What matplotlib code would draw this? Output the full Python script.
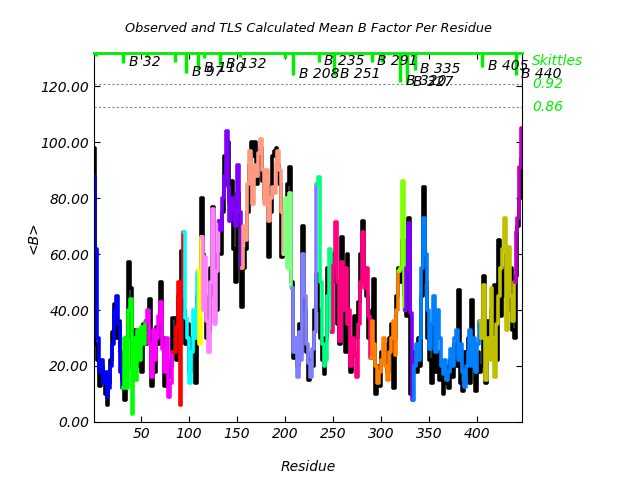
import numpy as np
import matplotlib
matplotlib.use("Agg")
import matplotlib.pyplot as plt

plt.rcParams["font.family"] = "DejaVu Sans"
plt.rcParams["font.style"] = "italic"

# residues sampled every 2
residue = np.arange(1, 448, 2)

# observed mean B (black)
obs_b = [
    98, 28, 22, 13, 20, 17, 10, 6, 14, 22, 32, 42, 30, 36, 25, 15,       # 1-31
    8, 30, 57, 48, 20, 25, 33, 20, 30, 18, 35, 28,                         # 33-55
    35, 44, 13, 25, 18, 34, 28, 50, 30, 13, 22, 16, 20, 37,                # 57-83
    37, 22, 45, 28, 61, 40,                                                # 85-95
    28, 35, 18, 30, 25, 14, 45,                                            # 97-109
    50, 80,                                                                # 111-113
    60, 45, 30, 32, 55, 77, 45, 40, 60,                                    # 115-131
    60, 75, 95, 85, 100, 78, 86, 62, 50, 82, 70, 41,                       # 133-155
    55, 62, 75, 92, 100, 95, 100, 85, 92, 98, 86, 80, 85, 59, 75, 95,
    97, 98, 92, 85, 59, 75,                                                # 157-199
    70, 85, 91, 50,                                                        # 201-207
    23, 28, 20, 35, 25, 70, 40, 25, 15, 22, 20, 40, 53,                    # 209-233
    40, 30, 22, 17, 30, 55, 50, 60,                                        # 235-249
    60, 50, 35, 28, 66, 40, 25, 60, 30, 18, 24, 38, 30, 43, 60, 72,
    55, 45, 30, 35,                                                        # 251-289
    40, 51, 10, 20, 13, 25, 22, 28, 18, 30, 35, 12, 30, 45, 55,            # 291-319
    50, 65, 45,                                                            # 321-325
    38, 73, 10, 25,                                                        # 327-333
    25, 18, 30, 20, 45, 84, 50, 30, 22, 14, 35, 18, 25, 15, 20, 10,
    14, 20, 12, 22, 16, 28, 20, 47, 14, 11, 25, 18, 30, 14, 43.6, 22,
    11, 25, 18,                                                            # 335-403
    20, 52, 14, 36, 25, 40, 30, 49, 22, 65, 38, 55, 45, 60, 40, 55,
    33, 30,                                                                # 405-439
    52, 70, 80, 94,                                                        # 441-447
]

# TLS calculated mean B (coloured per group)
tls_b = [
    88, 62, 30, 18, 22, 14, 18, 9, 12, 20, 28, 40, 45, 35, 18, 12,        # 1-31
    30, 12, 40, 44, 3, 30, 15, 33, 22, 34, 28, 36,                         # 33-55
    40, 28, 16, 33, 22, 30, 38, 43, 26, 18, 30, 9, 14, 25,                 # 57-83
    25, 34, 50, 6, 45, 68,                                                 # 85-95
    37, 30, 14, 25, 40, 30, 54,                                            # 97-109
    28, 66,                                                                # 111-113
    40, 59, 36, 25, 50, 76, 35, 54, 72,                                    # 115-131
    68.6, 80, 88, 104, 84, 72, 80, 76, 70, 92, 75, 55,                     # 133-155
    70, 65, 85, 97, 88, 78, 92, 88, 96, 101, 90, 78, 90, 72, 80, 84,
    82, 93, 97, 90, 75, 60,                                                # 157-199
    80, 55, 82, 48,                                                        # 201-207
    25, 30, 16, 32, 22, 60, 45, 28, 21, 16, 26, 32, 85,                    # 209-233
    87.6, 50, 28, 20, 22, 45, 62, 32,                                      # 235-249
    56, 71.5, 50, 29, 57, 40, 55, 35, 40, 20, 30, 25, 16, 35, 50, 68,
    48, 55, 38, 23,                                                        # 251-289
    36, 28, 20, 14, 18, 22, 30, 20, 15, 25, 30, 36, 24, 40, 54,            # 291-319
    55, 86, 40,                                                            # 321-325
    55, 71, 39, 8,                                                         # 327-333
    20, 28, 22, 30, 55, 73, 60, 40, 26, 35, 45, 25, 40, 30, 20, 17,
    22, 15, 18, 26, 20, 30, 33, 22, 28, 18, 12.6, 20, 25, 33, 20, 30,
    18, 28, 36,                                                            # 335-403
    30, 49, 15, 30, 22, 48, 30, 16, 35, 45, 55, 62, 73, 33, 62.6, 45,
    36, 50,                                                                # 405-439
    68, 73, 91, 105,                                                       # 441-447
]

group_start = [1, 33, 57, 85, 97, 111, 115, 133, 157, 201, 209, 235, 251,
               291, 321, 327, 335, 405, 441]
group_color = ["#0000ff", "#00ff00", "#ff00ff", "#ff0000", "#00ffff",
               "#ffff00", "#ff80ff", "#8000ff", "#ff9980", "#80ff80",
               "#8080ff", "#00ff80", "#ff0080", "#ff8000", "#80ff00",
               "#8000ff", "#0080ff", "#c0c000", "#c000c0"]

# skittle marks along the top: residue, lower end (B units), label
skittle_res = [3, 31, 56, 85, 97, 109, 116, 132, 153, 200, 208, 235, 251,
               290, 301, 320, 327, 335, 405, 440]
skittle_end = [131, 128.2, 130.5, 128.6, 124.6, 126.1, 130, 127.5, 130.5,
               130, 123.9, 128.6, 123.9, 128.6, 128.6, 121.4, 121.1, 125.7,
               126.8, 123.9]
skittle_lab = ["", "B 32", "", "", "B 97", "B 110", "", "B 132", "", "",
               "B 208", "B 235", "B 251", "B 291", "", "B 320", "B 327",
               "B 335", "B 405", "B 440"]

ref_lines = [120.9, 112.6]
ref_labels = ["0.92", "0.86"]

fig = plt.figure(figsize=(6.4, 4.8), dpi=100)
ax = fig.add_axes([0.147, 0.121, 0.669, 0.768])

ax.plot(residue, obs_b, color="black", lw=2.6, drawstyle="steps-mid")

obs = np.array(obs_b)
tls = np.array(tls_b)
for k, start in enumerate(group_start):
    stop = group_start[k + 1] if k + 1 < len(group_start) else 10000
    idx = np.where((residue >= start) & (residue < stop))[0]
    if idx[0] > 0:
        idx = np.r_[idx[0] - 1, idx]
    ax.plot(residue[idx], tls[idx], color=group_color[k], lw=2.6,
            drawstyle="steps-mid")

xmin, xmax = 1, 447
ymin, ymax = 0, 131.8
ax.set_xlim(xmin, xmax)
ax.set_ylim(ymin, ymax)

for y in ref_lines:
    ax.axhline(y, color="#888888", lw=0.8, ls=(0, (2, 2)))

green = "#00ee00"
ax.axhline(ymax, color=green, lw=2, clip_on=False, zorder=5)
for r, end, lab in zip(skittle_res, skittle_end, skittle_lab):
    ax.vlines(r, end, ymax, color=green, lw=2.5, zorder=5)
    if lab:
        ax.text(r + 6, end + 0.5, lab, fontsize=10, va="center", ha="left",
                clip_on=False, zorder=6)

ax.text(xmax + 10, 129, "Skittles", color=green, fontsize=10, va="center",
        clip_on=False)
for y, lab in zip(ref_lines, ref_labels):
    ax.text(xmax + 10, y, lab, color=green, fontsize=10, va="center",
            clip_on=False)

ax.set_xticks([50, 100, 150, 200, 250, 300, 350, 400])
ax.set_yticks(np.arange(0, 121, 20))
ax.set_yticklabels([f"{v:.2f}" for v in np.arange(0, 121, 20)])
ax.tick_params(direction="in", top=True, right=True, length=4, labelsize=10)

ax.set_title("Observed and TLS Calculated Mean B Factor Per Residue",
             fontsize=9.3, pad=15)
ax.set_xlabel("Residue", fontsize=10, labelpad=14)
ax.set_ylabel("<B>", fontsize=10)
ax.yaxis.set_label_coords(-0.126, 0.5)

fig.savefig("out.png", dpi=100)
